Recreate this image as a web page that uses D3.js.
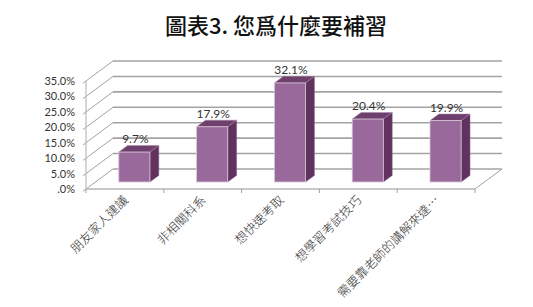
<!DOCTYPE html>
<html>
<head>
<meta charset="utf-8">
<script src="https://cdn.jsdelivr.net/npm/d3@7"></script>
<style>
  html, body { margin: 0; padding: 0; background: #fff; }
  svg { display: block; }
</style>
</head>
<body>
<div id="chart"></div>
<script>
(function () {
  "use strict";

  var title = "圖表3. 您爲什麼要補習";
  var categories = ["朋友家人建議", "非相關科系", "想快速考取", "想學習考試技巧", "需要靠老師的講解來達…"];
  var values = [9.7, 17.9, 32.1, 20.4, 19.9];
  var yTicks = [0, 5, 10, 15, 20, 25, 30, 35];

  var W = 533, H = 307;
  // 3D depth offset of the back wall
  var DX = 27, DY = -20;
  var BAR_Z0 = 0.35, BAR_Z1 = 0.68;

  var svg = d3.select("#chart").append("svg")
    .attr("width", W).attr("height", H);

  var x = d3.scaleBand().domain(categories).range([86, 475]);
  var y = d3.scaleLinear().domain([0, 35]).range([189, 81]);

  svg.append("text")
    .attr("x", 276).attr("y", 34)
    .attr("text-anchor", "middle")
    .attr("font-family", "'Noto Sans CJK TC', 'Noto Sans CJK SC', sans-serif")
    .attr("font-weight", 500)
    .attr("font-size", 22)
    .attr("fill", "#111")
    .text(title);

  var grid = svg.append("g").attr("stroke", "#a3a3a3").attr("fill", "none");

  // left wall diagonals + back wall gridlines
  yTicks.forEach(function (t) {
    var yy = y(t);
    grid.append("line")
      .attr("x1", 83).attr("y1", yy + 2.2)
      .attr("x2", 86 + DX).attr("y2", yy + DY)
      .attr("stroke-width", 1);
    grid.append("line")
      .attr("x1", 86 + DX).attr("y1", yy + DY)
      .attr("x2", x.range()[1] + DX).attr("y2", yy + DY)
      .attr("stroke-width", 1.6);
  });

  // front vertical axis
  grid.append("line")
    .attr("x1", 86).attr("y1", y(35))
    .attr("x2", 86).attr("y2", y(0))
    .attr("stroke", "#bbb").attr("stroke-width", 1.2);

  // floor front edge and right diagonal
  grid.append("line")
    .attr("x1", 86).attr("y1", y(0))
    .attr("x2", 475).attr("y2", y(0))
    .attr("stroke", "#b5b5b5").attr("stroke-width", 1.6);
  grid.append("line")
    .attr("x1", 475).attr("y1", y(0))
    .attr("x2", 475 + DX).attr("y2", y(0) + DY)
    .attr("stroke-width", 1);

  // category tick marks on floor
  categories.concat([null]).forEach(function (c, i) {
    var xx = 86 + i * x.bandwidth();
    grid.append("line")
      .attr("x1", xx).attr("y1", y(0))
      .attr("x2", xx).attr("y2", y(0) + 4)
      .attr("stroke-width", 1);
  });

  // y tick labels
  svg.append("g").selectAll("text")
    .data(yTicks).join("text")
    .attr("x", 75).attr("y", function (d) { return y(d) + 4; })
    .attr("text-anchor", "end")
    .attr("font-family", "Lato, 'Open Sans', sans-serif")
    .attr("font-size", 11)
    .attr("fill", "#333")
    .text(function (d) { return d === 0 ? ".0%" : d.toFixed(1) + "%"; });

  // bars
  var bw = x.bandwidth() * 0.4;
  var bars = svg.append("g").selectAll("g")
    .data(categories.map(function (c, i) { return { cat: c, v: values[i] }; }))
    .join("g");

  function fx(d) { return x(d.cat) + x.bandwidth() / 2 - bw / 2 + BAR_Z0 * DX; }
  var dz = BAR_Z1 - BAR_Z0;

  bars.each(function (d) {
    var g = d3.select(this);
    var x0 = fx(d), x1 = x0 + bw;
    var yb = y(0) + BAR_Z0 * DY, yt = y(d.v) + BAR_Z0 * DY;
    var ddx = dz * DX, ddy = dz * DY;
    g.append("polygon")
      .attr("points", [[x1, yt], [x1 + ddx, yt + ddy], [x1 + ddx, yb + ddy], [x1, yb]].join(" "))
      .attr("fill", "#61315f").attr("stroke", "#8a6a8a").attr("stroke-width", 0.5);
    g.append("polygon")
      .attr("points", [[x0, yt], [x0 + ddx, yt + ddy], [x1 + ddx, yt + ddy], [x1, yt]].join(" "))
      .attr("fill", "#6f3f6e").attr("stroke", "#a58aa5").attr("stroke-width", 0.5);
    g.append("rect")
      .attr("x", x0).attr("y", yt)
      .attr("width", bw).attr("height", yb - yt)
      .attr("fill", "#9a699c").attr("stroke", "#d8c8d8").attr("stroke-width", 0.8);
    g.append("text")
      .attr("x", x0 + bw / 2 + 1)
      .attr("y", yt + ddy - 2)
      .attr("text-anchor", "middle")
      .attr("font-family", "Lato, 'Open Sans', sans-serif")
      .attr("font-size", 12)
      .attr("fill", "#333")
      .text(d.v.toFixed(1) + "%");
  });

  // category labels, rotated
  svg.append("g").selectAll("text")
    .data(categories).join("text")
    .attr("transform", function (d) {
      return "translate(" + (x(d) + x.bandwidth() / 2 + 4) + "," + 201 + ") rotate(-45)";
    })
    .attr("text-anchor", "end")
    .attr("font-family", "'Noto Sans CJK TC', sans-serif")
    .attr("font-weight", 300)
    .attr("font-size", 12.5)
    .attr("fill", "#333")
    .text(function (d) { return d; });
})();
</script>
</body>
</html>
